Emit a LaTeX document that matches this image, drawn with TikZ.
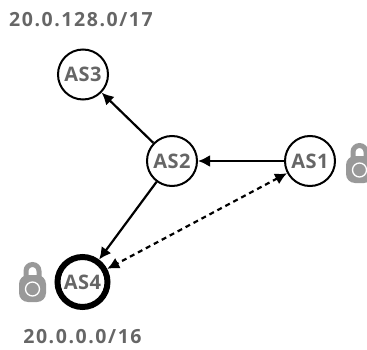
\documentclass[tikz,border=0pt]{standalone}
\usepackage{fontspec}
\setmainfont{DejaVu Sans}
\newfontfamily\aslabelfont[LetterSpace=2]{Open Sans}
\newfontfamily\prefixfont[LetterSpace=8]{Open Sans}
\usetikzlibrary{arrows.meta}
\definecolor{txt}{RGB}{102,102,102}
\definecolor{lockc}{RGB}{153,153,153}
\tikzset{
  asnode/.style={circle,draw=black,line width=2pt,minimum size=50pt,inner sep=0pt,fill=white,text=txt,font=\fontsize{20}{20}\aslabelfont\bfseries},
  originas/.style={asnode,line width=6pt},
  link/.style={draw=black,line width=2.2pt,-{Latex[length=12pt,width=12pt]}},
  dashlink/.style={link,{Latex[length=12pt,width=12pt]}-{Latex[length=12pt,width=12pt]},dash pattern=on 5pt off 4pt},
  prefixlabel/.style={text=txt,font=\fontsize{19.5}{19.5}\prefixfont\bfseries,inner sep=0pt},
  lockbody/.style={fill=lockc,draw=none,rounded corners=9pt},
  lockarc/.style={draw=lockc,line width=5pt},
  lockhole/.style={draw=white,line width=1.3pt}
}
\newcommand{\locksym}[2]{%
  \begin{scope}[shift={(#1,#2)}]
    \draw[lockarc] (-6.5,-2) -- (-6.5,9) arc[start angle=180,end angle=0,radius=6.5] -- (6.5,-2);
    \fill[lockbody] (-13.5,-22) rectangle (13.5,5);
    \draw[lockhole] (0,-9) circle (7);
  \end{scope}}
\begin{document}
\begin{tikzpicture}[x=1pt,y=1pt]
\useasboundingbox (0,0) rectangle (367,349);
\locksym{359.5}{188}
\locksym{32.5}{69}
\node[asnode] (as3) at (83,274.5) {AS3};
\node[asnode] (as2) at (172,188) {AS2};
\node[asnode] (as1) at (310,188) {AS1};
\node[originas] (as4) at (82.5,67) {AS4};
\draw[link] (as2) -- (as3);
\draw[link] (as1) -- (as2);
\draw[link] (as2) -- (as4);
\draw[dashlink] (as1) -- (as4);
\node[prefixlabel] (p1) at (81,329) {20.0.128.0/17};
\node[prefixlabel] (p2) at (82.5,12) {20.0.0.0/16};
\end{tikzpicture}
\end{document}
